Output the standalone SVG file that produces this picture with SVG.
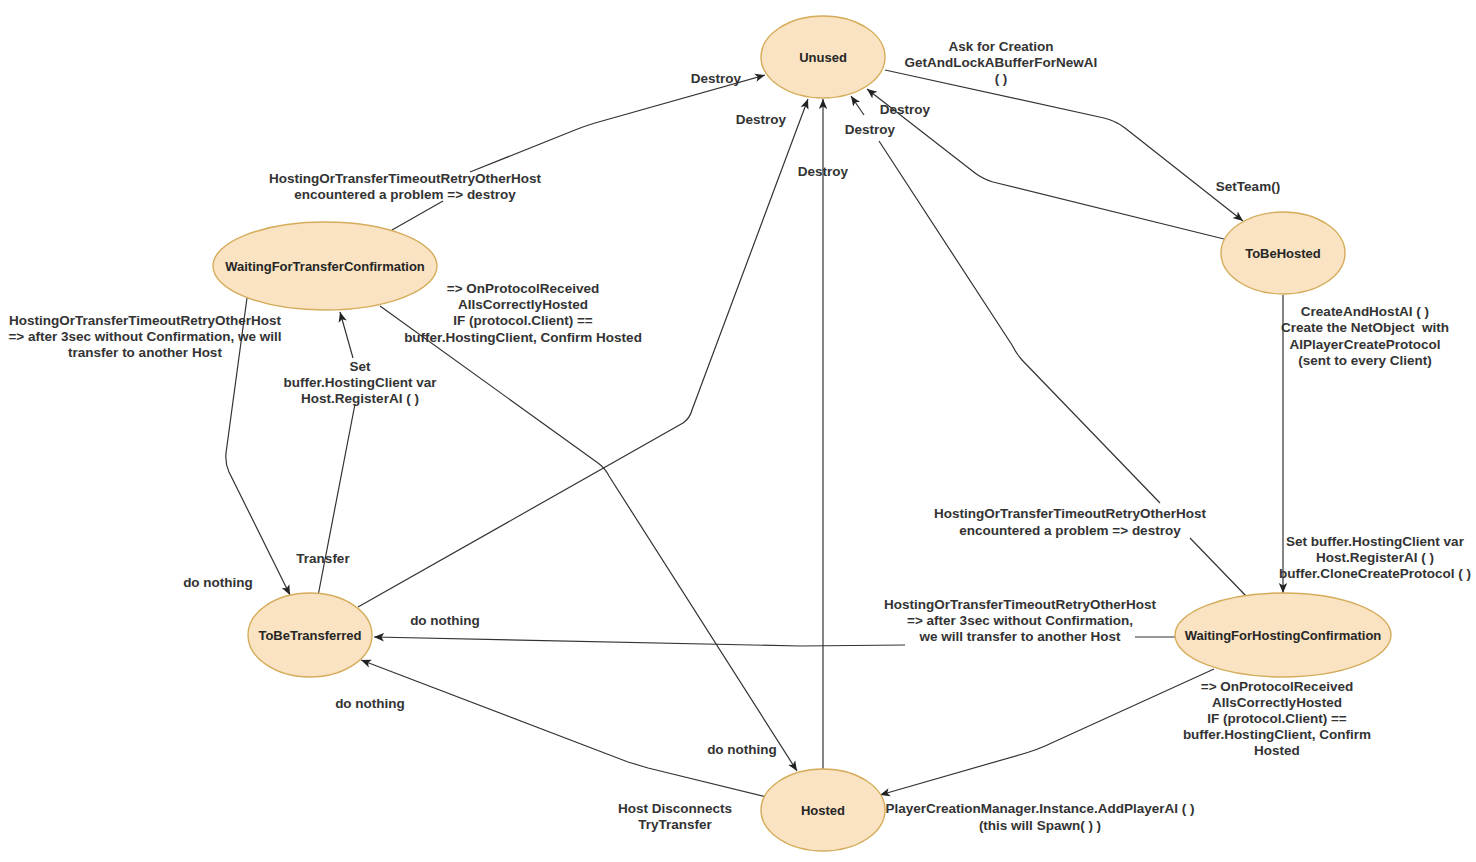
<svg xmlns="http://www.w3.org/2000/svg" width="1476" height="862" viewBox="0 0 1476 862">
<style>
.node ellipse{fill:#f9e3c2;stroke:#d5ac5a;stroke-width:1.4}
.node text{font-family:"Liberation Sans",Arial,sans-serif;font-size:13px;font-weight:bold;fill:#262626;text-anchor:middle}
.edge{fill:none;stroke:#333;stroke-width:1.2;marker-end:url(#arr)}
.lbl{font-family:"Liberation Sans",Arial,sans-serif;font-size:13.5px;font-weight:bold;fill:#333;text-anchor:middle;white-space:pre}
</style>
<defs>
<marker id="arr" markerUnits="userSpaceOnUse" markerWidth="12" markerHeight="10" refX="10" refY="5" orient="auto">
<path d="M0,0.8 L10,5 L0,9.2 L2.5,5 Z" fill="#222"/>
</marker>
</defs>
<rect width="1476" height="862" fill="#fff"/>
<g id="connectors">
<path class="edge" d="M885 70 L1104 118 Q1116 121 1125 128 L1243 221"/>
<path class="edge" d="M1224 239 L993 182 Q983 179 975 173 L867 89"/>
<path class="edge" d="M1247 597 L1190 538 M1160 503 L1022 360 Q1016 353 1012 345 L879 141 M864 115 L851 96"/>
<path class="edge" d="M823 770 L823 99"/>
<path class="edge" d="M358 607 L683 423 Q690 418 692 410 L808 99"/>
<path class="edge" d="M392 230 L443 201 M470 172 L575 130 Q585 126 595 123 L765 75"/>
<path class="edge" d="M247 298 L226 453 Q225 463 229 472 L290 595"/>
<path class="edge" d="M318 596 L355 404 M353 358 L340 312"/>
<path class="edge" d="M380 306 L598 463 Q605 468 609 476 L797 771"/>
<path class="edge" d="M1283 295 L1283 593"/>
<path class="edge" d="M1175 637 L1135 637 M905 645 L800 646 L374 637"/>
<path class="edge" d="M1214 669 L1045 746 Q1036 750 1026 753 L880 795"/>
<path class="edge" d="M767 797 L648 768 Q638 765 628 762 L361 660"/>
</g>
<g id="labels">
<text class="lbl" x="1001" y="51">Ask for Creation</text>
<text class="lbl" x="1001" y="67">GetAndLockABufferForNewAI</text>
<text class="lbl" x="1001" y="83">( )</text>
<text class="lbl" x="1248" y="191">SetTeam()</text>
<text class="lbl" x="905" y="114">Destroy</text>
<text class="lbl" x="870" y="134">Destroy</text>
<text class="lbl" x="823" y="176">Destroy</text>
<text class="lbl" x="761" y="124">Destroy</text>
<text class="lbl" x="716" y="83">Destroy</text>
<text class="lbl" x="405" y="183">HostingOrTransferTimeoutRetryOtherHost</text>
<text class="lbl" x="405" y="199">encountered a problem =&gt; destroy</text>
<text class="lbl" x="145" y="325">HostingOrTransferTimeoutRetryOtherHost</text>
<text class="lbl" x="145" y="341">=&gt; after 3sec without Confirmation, we will</text>
<text class="lbl" x="145" y="357">transfer to another Host</text>
<text class="lbl" x="523" y="293">=&gt; OnProtocolReceived</text>
<text class="lbl" x="523" y="309">AIIsCorrectlyHosted</text>
<text class="lbl" x="523" y="325">IF (protocol.Client) ==</text>
<text class="lbl" x="523" y="342">buffer.HostingClient, Confirm Hosted</text>
<text class="lbl" x="360" y="371">Set</text>
<text class="lbl" x="360" y="387">buffer.HostingClient var</text>
<text class="lbl" x="360" y="403">Host.RegisterAI ( )</text>
<text class="lbl" x="323" y="563">Transfer</text>
<text class="lbl" x="218" y="587">do nothing</text>
<text class="lbl" x="445" y="625">do nothing</text>
<text class="lbl" x="370" y="708">do nothing</text>
<text class="lbl" x="742" y="754">do nothing</text>
<text class="lbl" x="675" y="813">Host Disconnects</text>
<text class="lbl" x="675" y="829">TryTransfer</text>
<text class="lbl" x="1040" y="813">PlayerCreationManager.Instance.AddPlayerAI ( )</text>
<text class="lbl" x="1040" y="830">(this will Spawn( ) )</text>
<text class="lbl" x="1277" y="691">=&gt; OnProtocolReceived</text>
<text class="lbl" x="1277" y="707">AIIsCorrectlyHosted</text>
<text class="lbl" x="1277" y="723">IF (protocol.Client) ==</text>
<text class="lbl" x="1277" y="739">buffer.HostingClient, Confirm</text>
<text class="lbl" x="1277" y="755">Hosted</text>
<text class="lbl" x="1020" y="609">HostingOrTransferTimeoutRetryOtherHost</text>
<text class="lbl" x="1020" y="625">=&gt; after 3sec without Confirmation,</text>
<text class="lbl" x="1020" y="641">we will transfer to another Host</text>
<text class="lbl" x="1070" y="518">HostingOrTransferTimeoutRetryOtherHost</text>
<text class="lbl" x="1070" y="535">encountered a problem =&gt; destroy</text>
<text class="lbl" x="1365" y="316">CreateAndHostAI ( )</text>
<text class="lbl" x="1365" y="332">Create the NetObject  with</text>
<text class="lbl" x="1365" y="349">AIPlayerCreateProtocol</text>
<text class="lbl" x="1365" y="365">(sent to every Client)</text>
<text class="lbl" x="1375" y="546">Set buffer.HostingClient var</text>
<text class="lbl" x="1375" y="562">Host.RegisterAI ( )</text>
<text class="lbl" x="1375" y="578">buffer.CloneCreateProtocol ( )</text>
</g>
<g id="node-unused" class="node"><ellipse cx="823" cy="57" rx="62" ry="41"/><text x="823" y="62">Unused</text></g>
<g id="node-tobehosted" class="node"><ellipse cx="1283" cy="253" rx="62" ry="41"/><text x="1283" y="258">ToBeHosted</text></g>
<g id="node-waitingfortransfer" class="node"><ellipse cx="325" cy="266" rx="112" ry="44"/><text x="325" y="271">WaitingForTransferConfirmation</text></g>
<g id="node-tobetransferred" class="node"><ellipse cx="310" cy="635" rx="62" ry="42"/><text x="310" y="640">ToBeTransferred</text></g>
<g id="node-waitingforhosting" class="node"><ellipse cx="1283" cy="635" rx="108" ry="42"/><text x="1283" y="640">WaitingForHostingConfirmation</text></g>
<g id="node-hosted" class="node"><ellipse cx="823" cy="810" rx="62" ry="41"/><text x="823" y="815">Hosted</text></g>
</svg>
